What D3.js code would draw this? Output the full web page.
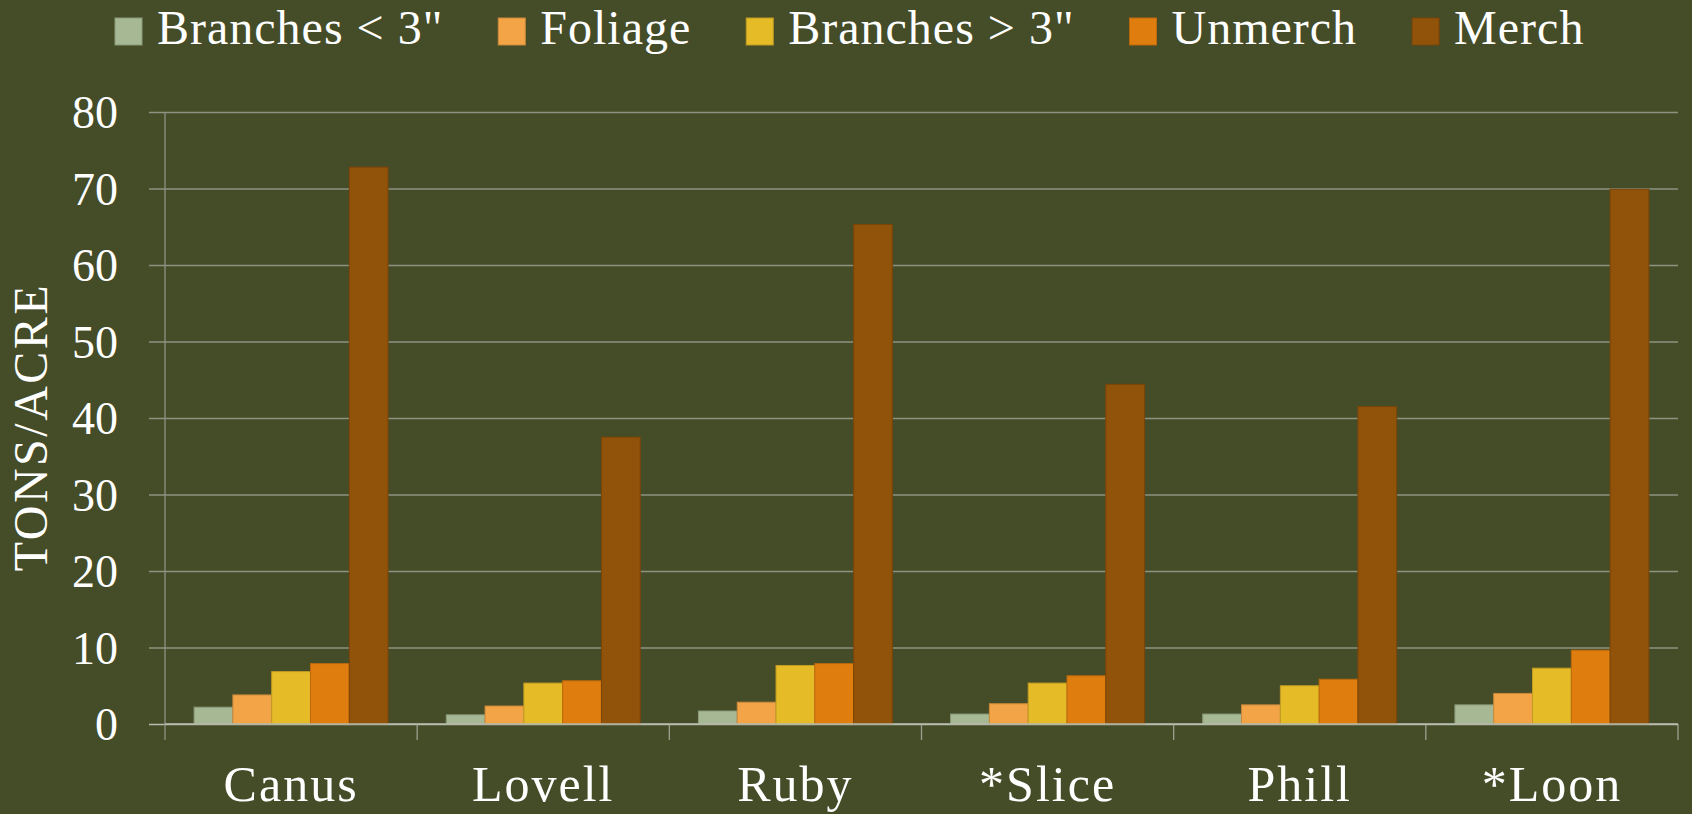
<!DOCTYPE html>
<html>
<head>
<meta charset="utf-8">
<script src="https://cdn.jsdelivr.net/npm/d3@7"></script>
<style>
    html, body { margin: 0; padding: 0; background: #454c28; }
    svg { display: block; }
    text { font-family: "Liberation Serif", "Times New Roman", serif; fill: #ffffff; }
</style>
</head>
<body>
<div id="chart"></div>
<script>
(function() {
    // data
    var sites = ["Canus", "Lovell", "Ruby", "*Slice", "Phill", "*Loon"];
    var parts = ["Branches < 3\"", "Foliage", "Branches > 3\"", "Unmerch", "Merch"];
    var branchesSmall = [2.2, 1.2, 1.7, 1.3, 1.3, 2.5];
    var foliage = [3.8, 2.35, 2.85, 2.65, 2.5, 4.0];
    var branchesLarge = [6.85, 5.35, 7.65, 5.35, 5.0, 7.3];
    var unmerch = [7.9, 5.65, 7.9, 6.3, 5.85, 9.65];
    var merch = [72.8, 37.5, 65.3, 44.4, 41.5, 69.9];
    var yTicks = [0, 10, 20, 30, 40, 50, 60, 70, 80];
    var colors = ["#a6b894", "#f2a447", "#e5bb28", "#df7d0e", "#91520a"];

    var series = [branchesSmall, foliage, branchesLarge, unmerch, merch];

    var margin = { top: 112, left: 165, right: 14, bottom: 90 },
        width = 1692 - margin.left - margin.right,
        height = 814 - margin.top - margin.bottom;

    var rows = sites.map(function(s, i) {
        return { site: s, values: parts.map(function(p, j) { return { part: p, value: series[j][i] }; }) };
    });

    var xPositionScale = d3.scaleBand().domain(sites).range([0, width]);
    var gap = xPositionScale.bandwidth() * 1.5 / 6.5;   // gap width 150%
    var xInner = d3.scaleBand().domain(parts)
        .range([gap / 2, xPositionScale.bandwidth() - gap / 2]);

    var yPositionScale = d3.scaleLinear().domain([0, 80]).range([height, 0]);
    var colorScale = d3.scaleOrdinal().domain(parts).range(colors);

    var root = d3.select("#chart").append("svg")
        .attr("width", 1692)
        .attr("height", 814)
        .style("background", "#454c28");

    var svg = root.append("g")
        .attr("transform", "translate(" + margin.left + "," + margin.top + ")");

    // y axis + gridlines
    var yAxis = d3.axisLeft(yPositionScale)
        .tickValues(yTicks)
        .tickSize(-(width + 16))
        .tickPadding(31);

    var yg = svg.append("g")
        .attr("class", "y-axis")
        .attr("transform", "translate(-16,0)")
        .call(yAxis);
    yg.select(".domain").remove();
    yg.selectAll("line")
        .attr("stroke", function(d) { return d === 0 ? "#b9bcae" : "#8e9280"; })
        .attr("stroke-width", 1.3);
    yg.selectAll("text")
        .style("font-size", "46px")
        .attr("dy", "0.34em");

    svg.append("line")
        .attr("x1", 0).attr("x2", 0)
        .attr("y1", 0).attr("y2", height + 16)
        .attr("stroke", "#8f9282")
        .attr("stroke-width", 1.3);

    // ticks between the sites
    var bounds = sites.map(function(s) { return xPositionScale(s); }).concat([width]);
    svg.selectAll(".cat-tick")
        .data(bounds.slice(1))
        .enter().append("line")
        .attr("class", "cat-tick")
        .attr("x1", function(d) { return d; })
        .attr("x2", function(d) { return d; })
        .attr("y1", height)
        .attr("y2", height + 16)
        .attr("stroke", "#9ea190")
        .attr("stroke-width", 1.3);

    // bars
    var groups = svg.selectAll(".site")
        .data(rows)
        .enter().append("g")
        .attr("class", "site")
        .attr("transform", function(d) { return "translate(" + xPositionScale(d.site) + ",0)"; });

    groups.selectAll("rect")
        .data(function(d) { return d.values; })
        .enter().append("rect")
        .attr("x", function(d) { return xInner(d.part); })
        .attr("width", xInner.bandwidth())
        .attr("y", function(d) { return yPositionScale(d.value); })
        .attr("height", function(d) { return height - yPositionScale(d.value); })
        .attr("fill", function(d) { return colorScale(d.part); })
        .attr("stroke", function(d) { return d3.color(colorScale(d.part)).darker(0.5); })
        .attr("stroke-width", 1);

    svg.append("line")
        .attr("x1", 0).attr("x2", width)
        .attr("y1", height).attr("y2", height)
        .attr("stroke", "#b9bcae")
        .attr("stroke-width", 1.3);

    // x labels
    var xAxis = d3.axisBottom(xPositionScale).tickSize(0);
    var xg = svg.append("g")
        .attr("class", "x-axis")
        .attr("transform", "translate(0," + height + ")")
        .call(xAxis);
    xg.select(".domain").remove();
    xg.selectAll("text")
        .attr("y", 77)
        .attr("dy", 0)
        .style("font-size", "50px")
        .style("letter-spacing", "2px");

    // y title
    root.append("text")
        .attr("transform", "translate(47," + (margin.top + height / 2 + 9) + ") rotate(-90)")
        .attr("text-anchor", "middle")
        .style("font-size", "48px")
        .style("letter-spacing", "2.5px")
        .text("TONS/ACRE");

    // legend
    var legend = root.append("g").attr("class", "legend");
    var lx = 115;
    parts.forEach(function(p) {
        legend.append("rect")
            .attr("x", lx).attr("y", 18)
            .attr("width", 27).attr("height", 27)
            .attr("fill", colorScale(p))
            .attr("stroke", d3.color(colorScale(p)).darker(0.5))
            .attr("stroke-width", 1);
        var t = legend.append("text")
            .attr("x", lx + 42)
            .attr("y", 44)
            .style("font-size", "48px")
            .style("letter-spacing", "1px")
            .text(p);
        lx = lx + 42 + t.node().getComputedTextLength() + 55;
    });
})();
</script>
</body>
</html>
